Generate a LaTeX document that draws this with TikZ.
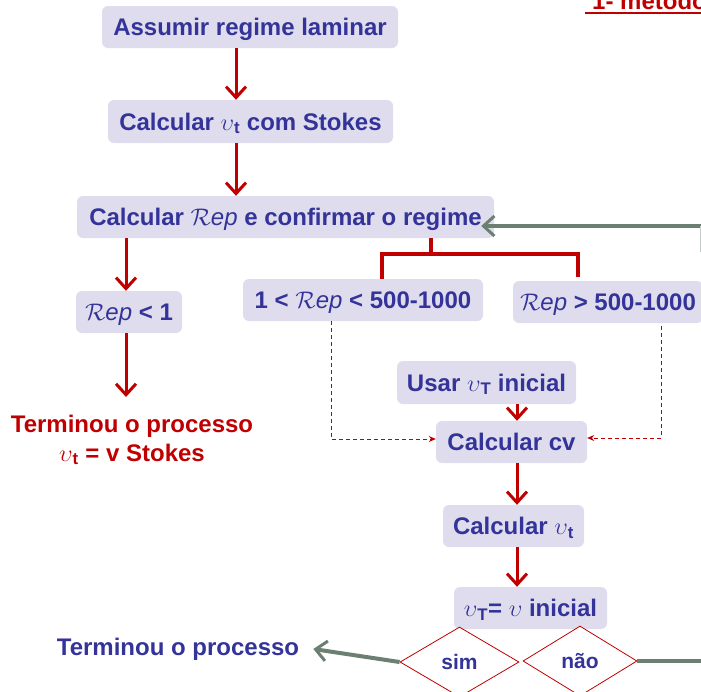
\documentclass[tikz,border=0pt]{standalone}
\usepackage{fix-cm}
\usepackage{fontspec}
\setmainfont{Liberation Sans}
\usetikzlibrary{arrows.meta,shapes.geometric}
\definecolor{boxfill}{RGB}{223,221,237}
\definecolor{txtblue}{RGB}{51,51,153}
\definecolor{redc}{RGB}{192,0,0}
\definecolor{grayg}{RGB}{108,128,114}
\newcommand{\vel}[1]{$\upsilon$\textsubscript{#1}}
\newcommand{\Rey}{$\mathcal{R}\mathit{ep}$}
\tikzset{
  box/.style={fill=boxfill, rounded corners=6pt, text=txtblue,
    font=\bfseries\fontsize{24}{28}\selectfont, inner sep=0pt,
    text height=17pt, text depth=0pt},
  plain/.style={inner sep=0pt, font=\bfseries\fontsize{24}{29}\selectfont},
  redarr/.style={draw=redc, line width=3pt,
    -{Straight Barb[length=11pt,width=20pt,line width=3pt]}},
  bracket/.style={draw=redc, line width=4pt},
  dasharr/.style={draw=redc, line width=0.9pt, dash pattern=on 4pt off 3pt,
    -{Stealth[length=7pt,width=6pt]}},
  grayarr/.style={draw=grayg, line width=4pt,
    -{Straight Barb[length=11pt,width=20pt,line width=3pt]}},
  grayline/.style={draw=grayg, line width=4pt},
  decision/.style={diamond, draw=redc, line width=0.8pt, fill=white, inner sep=0pt,
    text=txtblue, font=\bfseries\fontsize{21}{25}\selectfont}
}
\begin{document}
\begin{tikzpicture}[x=1pt,y=-1pt]
\useasboundingbox (0,0) rectangle (701,691);
\clip (0,0) rectangle (701,691);

% title (cut off at top, as in the reference)
\node[plain, text=redc, anchor=base west] (title) at (592,9) {1- método};
\draw[redc, line width=2pt] (585,13) -- (705,13);

% boxes
\node[box, minimum width=296pt, minimum height=42pt] (b1) at (250,27) {Assumir regime laminar};
\node[box, minimum width=285pt, minimum height=43pt] (b2) at (250.5,121.5) {Calcular \vel{t} com Stokes};
\node[box, minimum width=417pt, minimum height=42pt] (b3) at (285.5,217) {Calcular \Rey{} e confirmar o regime};
\node[box, minimum width=106pt, minimum height=42pt] (b4) at (129,312) {\Rey{} < 1};
\node[box, minimum width=240pt, minimum height=42pt] (b5) at (363,300) {1 < \Rey{} < 500-1000};
\node[box, minimum width=190pt, minimum height=42pt] (b6) at (608,302) {\Rey{} > 500-1000};
\node[box, minimum width=179pt, minimum height=43pt] (b7) at (486.5,382.5) {Usar \vel{T} inicial};
\node[box, minimum width=151pt, minimum height=42pt] (b8) at (511.5,442) {Calcular cv};
\node[box, minimum width=141pt, minimum height=42pt] (b9) at (513.5,526) {Calcular \vel{t}};
\node[box, minimum width=153pt, minimum height=42pt] (b10) at (530.5,608) {\vel{T}= $\upsilon$ inicial};

% texts
\node[plain, text=redc, align=center] (t1) at (132,440) {Terminou o processo\\\vel{t} = v Stokes};
\node[plain, text=txtblue] (t2) at (178,649) {Terminou o processo};
\coordinate (t1top) at (126,397);

% decisions
\node[decision, minimum width=119pt, minimum height=70pt] (d1) at (459.5,662) {sim};
\node[decision, minimum width=114pt, minimum height=70pt] (d2) at (580,661) {não};

% red arrows
\draw[redarr] ([xshift=-14pt]b1.south) -- ([xshift=-14.5pt]b2.north);
\draw[redarr] ([xshift=-14.5pt]b2.south) -- ([xshift=-49.5pt]b3.north);
\draw[redarr] ([xshift=-159.5pt]b3.south) -- ([xshift=-3pt]b4.north);
\draw[redarr] ([xshift=-3pt]b4.south) -- (t1top);
\draw[redarr] ([xshift=30.5pt]b7.south) -- ([xshift=5.5pt]b8.north);
\draw[redarr] ([xshift=5.5pt]b8.south) -- ([xshift=3.5pt]b9.north);
\draw[redarr] ([xshift=3.5pt]b9.south) -- ([xshift=-13.5pt]b10.north);

% bracket
\coordinate (brk) at (431,254);
\draw[bracket] ([xshift=145.5pt]b3.south) -- (brk);
\draw[bracket] (brk) -| ([xshift=19pt]b5.north);
\draw[bracket] (brk) -| ([xshift=-30pt,yshift=4pt]b6.north);

% dashed arrows
\draw[dasharr] ([xshift=-32pt]b5.south) |- ([yshift=3pt]b8.west);
\draw[dasharr] ([xshift=53pt,yshift=-3pt]b6.south) |- ([yshift=4pt]b8.east);

% gray arrows
\coordinate (rt) at (703,661);
\coordinate (rtop) at (703,226);
\draw[grayarr] (d1.west) -- ([xshift=14pt]t2.east);
\draw[grayline] (d2.east) -- (rt);
\draw[grayarr] (rtop) -- ([xshift=-13pt,yshift=-9pt]b3.east);
\draw[grayg!40, line width=1pt] (700.5,226) -- (700.5,252);
\end{tikzpicture}
\end{document}
